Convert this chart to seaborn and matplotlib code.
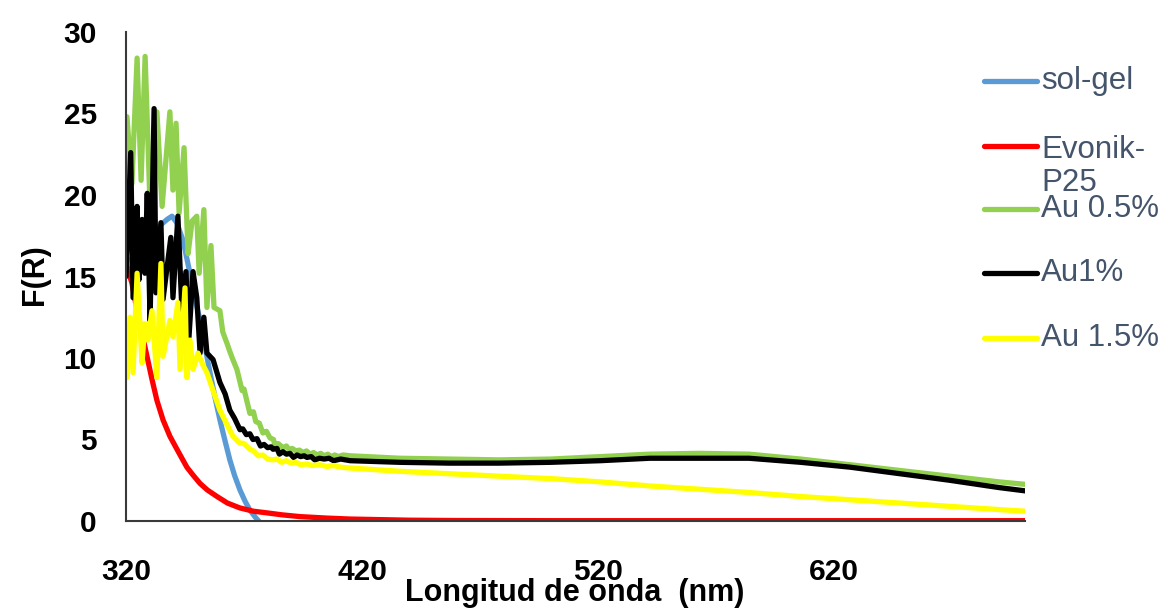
import matplotlib
matplotlib.use("Agg")
import matplotlib.pyplot as plt
from matplotlib.lines import Line2D
import seaborn as sns
import pandas as pd

# values
solgel_x = [320, 324, 328, 332, 335, 337.4, 339.5, 341.5, 344.2, 347.1, 349, 351.4, 353.5, 355.6,
            357.7, 359.8, 362, 364, 366, 368.3, 370.5, 372.5, 374.7, 376.8, 379]
solgel_y = [15.5, 16.5, 17.2, 17.8, 18.2, 18.5, 18.7, 18.3, 17.2, 15.2, 13.8, 12.3, 10.7, 9.1,
            7.6, 6.2, 4.9, 3.75, 2.8, 1.9, 1.2, 0.67, 0.25, -0.1, -0.4]

evonik_x = [320, 320.4, 322.5, 324.7, 326.8, 328.9, 331, 333.1, 335.7, 338.6, 341.6, 343.5, 345.8,
            348.5, 351.4, 354.5, 358.6, 363, 368.3, 374, 379.7, 386, 393.7, 405, 415, 440, 460, 500, 600, 701]
evonik_y = [15.8, 15.6, 14.6, 12.9, 11.5, 10.1, 8.7, 7.4, 6.2, 5.2, 4.4, 3.9, 3.3,
            2.8, 2.3, 1.9, 1.5, 1.1, 0.8, 0.6, 0.5, 0.38, 0.27, 0.18, 0.12, 0.05, 0.03, 0.02, 0.02, 0.02]

au05_x = [320, 320.4, 322.5, 324.7, 326.4, 328.1, 330.2, 333.1, 335.3, 338.6, 339.9, 341.2, 342.5,
          344.6, 346.3, 348, 350, 351, 353, 354.3, 356, 357.3, 359.8, 361, 362.8, 364, 365.3, 367,
          369.2, 370, 371, 372.5, 374, 375, 376.5, 378, 379.5, 381, 382.5, 383, 384.5, 386.5,
          388, 389, 390.5, 392, 393.5, 395, 396.5, 398, 399.5, 401, 402.5, 404, 405.5, 407,
          408.5, 410, 412, 415, 436, 457, 478, 500, 521, 542, 563, 584, 606, 627, 648, 669, 690, 701]
au05_y = [18.5, 24.8, 20.7, 28.4, 20.9, 28.5, 19.3, 25.1, 19.3, 25.1, 20.3, 24.4, 18.9,
          22.9, 16.4, 18.4, 18.7, 15.2, 19.1, 13.1, 16.9, 13.1, 12.9, 11.6, 10.9, 10.4, 9.9, 9.3,
          8.0, 8.1, 7.5, 6.6, 6.7, 6.1, 6.0, 5.4, 5.5, 5.1, 5.0, 4.7, 4.75, 4.5,
          4.6, 4.4, 4.45, 4.3, 4.35, 4.2, 4.3, 4.1, 4.2, 4.05, 4.15, 4.0, 4.1, 3.95,
          4.05, 3.95, 4.05, 4.0, 3.85, 3.8, 3.75, 3.8, 3.95, 4.1, 4.15, 4.1, 3.8, 3.45, 3.1, 2.75, 2.4, 2.25]

au1_x = [320, 322, 323, 324.7, 325.5, 326.8, 328, 329, 330.2, 331.9, 332.7, 334.8, 335.7, 339,
         339.9, 342, 343.7, 345.4, 346.7, 348.4, 350, 351.4, 353, 354.3, 356.9, 359.8, 362,
         364, 366, 368.3, 369.5, 371, 372.5, 373.8, 375.5, 377, 378.5, 380, 381.5, 382.3, 384,
         385, 386.5, 388, 389.5, 391, 392.5, 394, 395.5, 396.7, 398.5, 400, 402, 404,
         406, 408, 411, 415, 436, 457, 478, 500, 521, 542, 563, 584, 606, 627, 648, 669, 690, 701]
au1_y = [15.0, 22.6, 13.7, 19.3, 14.8, 18.5, 15.2, 20.1, 12.3, 25.3, 14.0, 18.3, 13.6, 17.4,
         13.7, 18.7, 12.9, 15.3, 11.3, 15.3, 13.7, 10.3, 12.5, 10.3, 9.9, 8.5, 7.8,
         6.8, 6.3, 5.6, 5.65, 5.3, 5.35, 5.0, 5.05, 4.6, 4.7, 4.5, 4.55, 4.4, 4.45,
         4.1, 4.25, 4.1, 4.15, 3.9, 4.05, 3.95, 4.0, 3.9, 3.95, 3.75, 3.85, 3.8,
         3.85, 3.7, 3.8, 3.7, 3.6, 3.55, 3.55, 3.6, 3.7, 3.85, 3.85, 3.85, 3.6, 3.3, 2.9, 2.5, 2.05, 1.85]

au15_x = [320, 320.4, 321.7, 323, 324.7, 326.8, 328, 329.3, 331, 333.1, 334.8, 335.7, 338.6,
          339.9, 342, 342.9, 345, 345.8, 347.1, 348.4, 350.5, 352.5, 354.3, 356.9, 359.8, 362.5,
          365.3, 368, 370, 372.5, 374, 376, 378, 380, 382.3, 384, 386, 388, 390, 392, 394,
          396.7, 399, 402, 405, 408, 411, 415, 436, 457, 478, 500,
          521, 542, 563, 584, 606, 627, 648, 669, 690, 701]
au15_y = [11.0, 8.8, 12.5, 9.1, 15.2, 9.7, 12.1, 11.1, 12.9, 8.8, 15.8, 10.1, 12.3,
          11.3, 13.4, 9.3, 14.3, 8.8, 11.1, 9.3, 10.3, 9.6, 9.1, 8.0, 6.8, 6.0,
          5.2, 4.8, 4.75, 4.4, 4.3, 4.0, 4.05, 3.8, 3.75, 3.8, 3.6, 3.7, 3.55, 3.6, 3.45,
          3.5, 3.4, 3.45, 3.35, 3.4, 3.3, 3.25, 3.05, 2.9, 2.75, 2.6,
          2.4, 2.15, 1.95, 1.75, 1.5, 1.3, 1.1, 0.9, 0.7, 0.6]

series = ["sol-gel", "Evonik-P25", "Au 0.5%", "Au1%", "Au 1.5%"]
legend_labels = ["sol-gel", "Evonik-\nP25", "Au 0.5%", "Au1%", "Au 1.5%"]
colors = ["#5B9BD5", "#FF0000", "#92D050", "#000000", "#FFFF00"]

frames = []
for name, xs, ys in zip(series, [solgel_x, evonik_x, au05_x, au1_x, au15_x],
                        [solgel_y, evonik_y, au05_y, au1_y, au15_y]):
    frames.append(pd.DataFrame({"nm": xs, "F": ys, "muestra": name}))
df = pd.concat(frames, ignore_index=True)

sns.set_style("white")
plt.rcParams["font.family"] = ["Liberation Sans", "DejaVu Sans"]

fig = plt.figure(figsize=(11.64, 6.08), dpi=100)
ax = fig.add_axes([126 / 1164, 1 - 521 / 608, (1025 - 126) / 1164, (521 - 32) / 608])

sns.lineplot(data=df, x="nm", y="F", hue="muestra", hue_order=series,
             palette=dict(zip(series, colors)), estimator=None, sort=False,
             linewidth=3.8, legend=False, ax=ax)

ax.set_xlim(320, 701)
ax.set_ylim(0, 30)
ax.set_xticks([320, 420, 520, 620])
ax.set_yticks(range(0, 31, 5))
ax.tick_params(axis="both", length=0, labelsize=21.5, labelcolor="black")
ax.tick_params(axis="x", pad=27)
ax.tick_params(axis="y", pad=21)
for lab in ax.get_xticklabels() + ax.get_yticklabels():
    lab.set_fontweight("bold")
ax.set_xlabel("")
ax.set_ylabel("")
for s in ["top", "right"]:
    ax.spines[s].set_visible(False)
for s in ["left", "bottom"]:
    ax.spines[s].set_color("#3a3a3a")
    ax.spines[s].set_linewidth(1.5)

fig.text(575 / 1164, 1 - 593 / 608, "Longitud de onda  (nm)", ha="center", va="center",
         fontsize=22, fontweight="bold", color="black")
fig.text(35 / 1164, 1 - 275 / 608, "F(R)", ha="center", va="center", rotation=90,
         fontsize=22, fontweight="bold", color="black")

# legend drawn by hand (the Evonik label wraps onto a second line)
leg_y = [81, 146, 209, 273, 338]
for lab, col, y in zip(legend_labels, colors, leg_y):
    yf = 1 - y / 608
    fig.add_artist(Line2D([984 / 1164, 1037 / 1164], [yf, yf], color=col, lw=3.8,
                          solid_capstyle="round", transform=fig.transFigure))
    if "\n" in lab:
        fig.text(1041 / 1164, 1 - (y - 11) / 608, lab, ha="left", va="top",
                 fontsize=22.5, color="#44546A", linespacing=1.15)
    else:
        fig.text(1041 / 1164, yf, lab, ha="left", va="center", fontsize=22.5, color="#44546A")

fig.savefig("out.png", dpi=100)
